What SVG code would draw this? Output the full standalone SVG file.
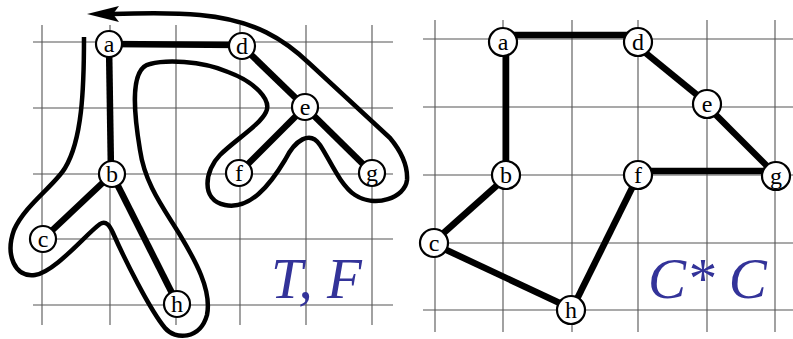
<svg xmlns="http://www.w3.org/2000/svg" width="793" height="339" viewBox="0 0 793 339">
<style>
.grid line{stroke:#555;stroke-width:1.1}
.edge{stroke:#000;stroke-width:6.5;stroke-linecap:butt}
.tour{fill:none;stroke:#000;stroke-width:4.5;stroke-linecap:butt;stroke-linejoin:round}
.node circle{fill:#fff;stroke:#000;stroke-width:2.2}
.node text{font-family:"Liberation Serif",serif;font-size:24px;text-anchor:middle;fill:#000}
.lbl{font-family:"Liberation Serif",serif;font-style:italic;font-size:57px;fill:#333399}
</style>
<rect width="793" height="339" fill="#fff"/>
<g class="grid" id="grid-left">
<line x1="42" y1="25" x2="42" y2="325"/><line x1="110" y1="25" x2="110" y2="325"/><line x1="176" y1="25" x2="176" y2="325"/><line x1="240" y1="25" x2="240" y2="325"/><line x1="306" y1="25" x2="306" y2="325"/><line x1="372" y1="25" x2="372" y2="325"/>
<line x1="33" y1="42" x2="393" y2="42"/><line x1="33" y1="108" x2="393" y2="108"/><line x1="33" y1="174" x2="393" y2="174"/><line x1="33" y1="239" x2="393" y2="239"/><line x1="33" y1="305" x2="393" y2="305"/>
</g>
<g class="grid" id="grid-right">
<line x1="435" y1="20" x2="435" y2="332"/><line x1="503" y1="20" x2="503" y2="332"/><line x1="572" y1="20" x2="572" y2="332"/><line x1="638" y1="20" x2="638" y2="332"/><line x1="707" y1="20" x2="707" y2="332"/><line x1="775" y1="20" x2="775" y2="332"/>
<line x1="423" y1="39" x2="793" y2="39"/><line x1="423" y1="107" x2="793" y2="107"/><line x1="423" y1="175" x2="793" y2="175"/><line x1="423" y1="243" x2="793" y2="243"/><line x1="423" y1="310" x2="793" y2="310"/>
</g>
<g id="connectors">
<line class="edge" x1="108" y1="44" x2="242" y2="45"/>
<line class="edge" x1="109" y1="44" x2="111" y2="174"/>
<line class="edge" x1="112" y1="174" x2="43" y2="239"/>
<line class="edge" x1="112" y1="174" x2="177" y2="303"/>
<line class="edge" x1="242" y1="46" x2="305" y2="107"/>
<line class="edge" x1="305" y1="107" x2="239" y2="173"/>
<line class="edge" x1="305" y1="107" x2="372" y2="173"/>
<path class="tour" d="M84 37 C84 90 82 140 65 168 C55 185 25 205 14 230 C5 255 15 278 35 275 C55 272 85 235 100 224 C106 220 110 226 113 233 C125 260 150 310 165 328 C175 340 200 340 207 315 C212 290 195 260 180 235 C165 210 145 185 140 150 C135 120 128 68 150 64 C165 60 200 60 228 72 C255 82 272 100 266 112 C260 125 235 140 220 155 C205 170 200 200 225 205 C250 210 270 185 285 160 C295 140 310 130 320 145 C330 160 340 185 355 195 C375 208 405 198 407 180 C408 165 400 150 390 138 L310 64 C285 40 255 20 200 15 C170 12 140 13 112 14"/>
<polygon points="87,14 119,6 113,14 119,22" fill="#000"/>
<line class="edge" x1="514" y1="35" x2="630" y2="35"/>
<line class="edge" x1="506" y1="50" x2="506" y2="168"/>
<line class="edge" x1="642" y1="50" x2="702" y2="99"/>
<line class="edge" x1="711" y1="110" x2="771" y2="170"/>
<line class="edge" x1="645" y1="171" x2="768" y2="171"/>
<line class="edge" x1="503" y1="180" x2="438" y2="238"/>
<line class="edge" x1="440" y1="247" x2="566" y2="306"/>
<line class="edge" x1="574" y1="305" x2="636" y2="180"/>
</g>
<g id="node-a-left" class="node"><circle cx="109" cy="44" r="13"/><text x="109" y="52">a</text></g>
<g id="node-d-left" class="node"><circle cx="242" cy="46" r="13"/><text x="242" y="54">d</text></g>
<g id="node-e-left" class="node"><circle cx="305" cy="107" r="13"/><text x="305" y="115">e</text></g>
<g id="node-b-left" class="node"><circle cx="112" cy="174" r="13"/><text x="112" y="182">b</text></g>
<g id="node-f-left" class="node"><circle cx="239" cy="173" r="13"/><text x="239" y="181">f</text></g>
<g id="node-g-left" class="node"><circle cx="372" cy="173" r="13"/><text x="372" y="181">g</text></g>
<g id="node-c-left" class="node"><circle cx="43" cy="239" r="13"/><text x="43" y="247">c</text></g>
<g id="node-h-left" class="node"><circle cx="177" cy="304" r="13"/><text x="177" y="312">h</text></g>
<g id="node-a-right" class="node"><circle cx="503" cy="42" r="14"/><text x="503" y="50">a</text></g>
<g id="node-d-right" class="node"><circle cx="638" cy="42" r="14"/><text x="638" y="50">d</text></g>
<g id="node-e-right" class="node"><circle cx="707" cy="104" r="14"/><text x="707" y="112">e</text></g>
<g id="node-b-right" class="node"><circle cx="506" cy="175" r="14"/><text x="506" y="183">b</text></g>
<g id="node-f-right" class="node"><circle cx="638" cy="175" r="14"/><text x="638" y="183">f</text></g>
<g id="node-g-right" class="node"><circle cx="776" cy="176" r="14"/><text x="776" y="184">g</text></g>
<g id="node-c-right" class="node"><circle cx="434" cy="243" r="14"/><text x="434" y="251">c</text></g>
<g id="node-h-right" class="node"><circle cx="571" cy="310" r="14"/><text x="571" y="318">h</text></g>
<text class="lbl" x="271" y="298">T, F</text>
<text class="lbl" x="648" y="298">C* C</text>
</svg>
